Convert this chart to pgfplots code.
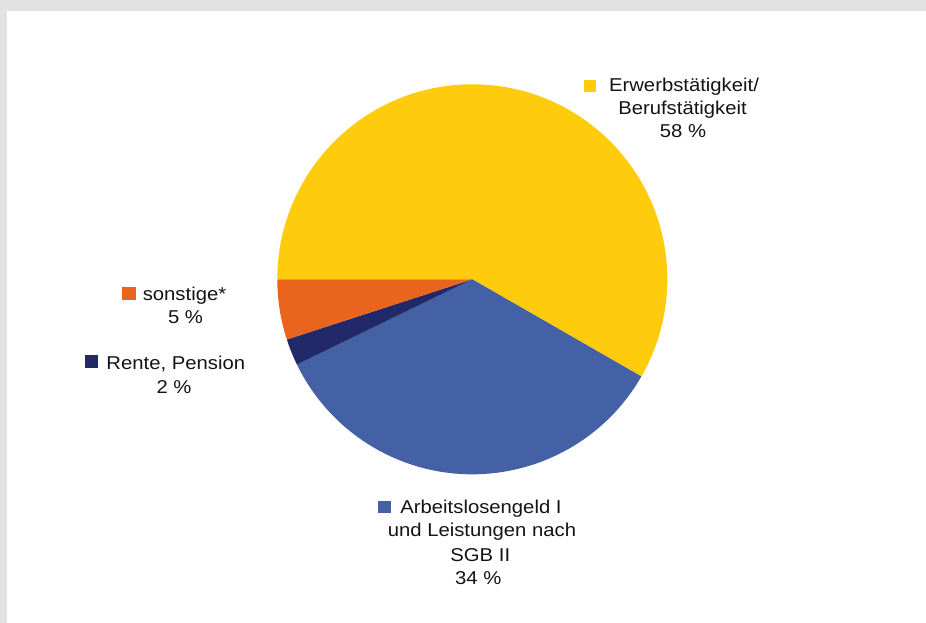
\documentclass[border=0pt]{standalone}
\usepackage{pgfplots}
\pgfplotsset{compat=1.18}
\usepackage{pgfplotstable}
\usepackage{graphicx}
\usepackage{fontspec}
\setmainfont{Liberation Sans}
\definecolor{cYel}{RGB}{254,204,12}
\definecolor{cBlue}{RGB}{68,97,166}
\definecolor{cNavy}{RGB}{33,41,104}
\definecolor{cOrange}{RGB}{233,101,30}
\definecolor{cGray}{RGB}{225,226,228}
\definecolor{cText}{RGB}{20,20,20}

\pgfplotstableread{
slice value
Erwerb 58.3
ALG 34.5
Rente 2.2
Sonst 5.0
}\piedata
\pgfplotstablegetelem{0}{value}\of\piedata\let\vA\pgfplotsretval
\pgfplotstablegetelem{1}{value}\of\piedata\let\vB\pgfplotsretval
\pgfplotstablegetelem{2}{value}\of\piedata\let\vC\pgfplotsretval
\pgfplotstablegetelem{3}{value}\of\piedata\let\vD\pgfplotsretval
\pgfmathsetmacro\aA{180}
\pgfmathsetmacro\aB{\aA-3.6*\vA}
\pgfmathsetmacro\aC{\aB-3.6*\vB}
\pgfmathsetmacro\aD{\aC-3.6*\vC}
\pgfmathsetmacro\aE{\aD-3.6*\vD}

\newcommand\lbl[1]{\scalebox{1.09}[1]{\fontsize{18.6}{22}\selectfont #1}}

\begin{document}
\begin{tikzpicture}
\begin{axis}[scale only axis, width=926pt, height=623pt,
  xmin=0, xmax=926, ymin=0, ymax=623, hide axis, clip=false]
\fill[cGray] (axis cs:0,0) rectangle (axis cs:926,623);
\fill[white] (axis cs:7,0) rectangle (axis cs:926,612);
% pie slices
\fill[cYel] (axis cs:472.3,343.7) -- ++(\aA:195pt) arc[start angle=\aA, end angle=\aB, radius=195pt] -- cycle;
\fill[cBlue] (axis cs:472.3,343.7) -- ++(\aB:195pt) arc[start angle=\aB, end angle=\aC, radius=195pt] -- cycle;
\fill[cNavy] (axis cs:472.3,343.7) -- ++(\aC:195pt) arc[start angle=\aC, end angle=\aD, radius=195pt] -- cycle;
\fill[cOrange] (axis cs:472.3,343.7) -- ++(\aD:195pt) arc[start angle=\aD, end angle=\aE, radius=195pt] -- cycle;
% labels: Erwerbstaetigkeit
\fill[cYel] (axis cs:584,531) rectangle (axis cs:595.5,543);
\node[anchor=base, inner sep=0pt, text=cText] at (axis cs:684,531) {\lbl{Erwerbstätigkeit/}};
\node[anchor=base, inner sep=0pt, text=cText] at (axis cs:682.5,508.5) {\lbl{Berufstätigkeit}};
\node[anchor=base, inner sep=0pt, text=cText] at (axis cs:683,485) {\lbl{58 \%}};
% Arbeitslosengeld
\fill[cBlue] (axis cs:378.3,109.7) rectangle (axis cs:391.2,122.3);
\node[anchor=base, inner sep=0pt, text=cText] at (axis cs:481,109.7) {\lbl{Arbeitslosengeld I}};
\node[anchor=base, inner sep=0pt, text=cText] at (axis cs:482,86) {\lbl{und Leistungen nach}};
\node[anchor=base, inner sep=0pt, text=cText] at (axis cs:480.3,61.3) {\lbl{SGB II}};
\node[anchor=base, inner sep=0pt, text=cText] at (axis cs:478.3,38) {\lbl{34 \%}};
% sonstige
\fill[cOrange] (axis cs:122.3,323) rectangle (axis cs:135.7,336.3);
\node[anchor=base, inner sep=0pt, text=cText] at (axis cs:184.5,322.5) {\lbl{sonstige*}};
\node[anchor=base, inner sep=0pt, text=cText] at (axis cs:185.5,299.7) {\lbl{5 \%}};
% Rente
\fill[cNavy] (axis cs:85,254.7) rectangle (axis cs:98.3,268);
\node[anchor=base, inner sep=0pt, text=cText] at (axis cs:175.8,253.5) {\lbl{Rente, Pension}};
\node[anchor=base, inner sep=0pt, text=cText] at (axis cs:174,229.7) {\lbl{2 \%}};
\end{axis}
\end{tikzpicture}
\end{document}
